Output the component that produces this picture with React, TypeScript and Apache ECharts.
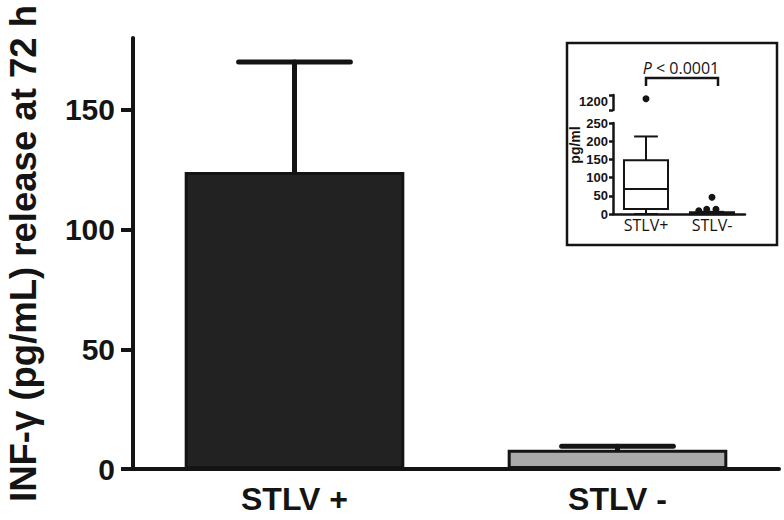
import { useEffect, useRef } from "react";
import * as echarts from "echarts";

// Main chart data
const categories = ["STLV +", "STLV -"];
const means = [124, 8];
const errorTops = [170, 9.5];
const barColors = ["#222222", "#aaaaaa"];
const yTicks = [0, 50, 100, 150];

// Inset data (x in category units: STLV+ centred at 0.5, STLV- at 1.5)
const insetCategories = ["STLV+", "STLV-"];
const insetCenters = [0.5, 1.5];
// [min, Q1, median, Q3, max]
const insetBoxes = [
  [0, 14, 69, 148, 213],
  [0, 0, 2, 5, 6],
];
const insetPointsLow = [
  [1.3, 9],
  [1.42, 13],
  [1.56, 13],
  [1.5, 46],
];
const insetPointsHigh = [[0.5, 1150]];
const insetTicks = [0, 50, 100, 150, 200, 250];
const insetUpperTicks = [1000, 1200];
const pText = "< 0.0001";

const FONT = "Liberation Sans, Arial, sans-serif";
const INSET_FONT = "Open Sans, sans-serif";
const INK = "#141414";

export default function App() {
  const ref = useRef<HTMLDivElement>(null);

  useEffect(() => {
    if (!ref.current) return;
    const chart = echarts.init(ref.current, undefined, { renderer: "svg" });

    const boxData = insetBoxes.map((b, i) => [insetCenters[i], ...b]);

    const option: any = {
      animation: false,
      backgroundColor: "#ffffff",
      grid: [
        { left: 133, right: 5, top: 38, bottom: 51, outerBoundsMode: "none", containLabel: false },
        { left: 613, width: 132, top: 123, height: 91, outerBoundsMode: "none", containLabel: false },
        { left: 613, width: 132, top: 95, height: 15, outerBoundsMode: "none", containLabel: false },
      ],
      xAxis: [
        {
          gridIndex: 0,
          type: "category",
          data: categories,
          boundaryGap: true,
          axisLine: { lineStyle: { color: INK, width: 4 } },
          axisTick: { alignWithLabel: true, length: 12, lineStyle: { color: INK, width: 4 } },
          axisLabel: { fontSize: 32, fontWeight: "bold", fontFamily: FONT, color: INK, margin: 14 },
        },
        {
          gridIndex: 1,
          type: "value",
          min: 0,
          max: 2,
          axisLine: { show: true, onZero: false, lineStyle: { color: INK, width: 2.5 } },
          axisTick: { show: false },
          splitLine: { show: false },
          axisLabel: {
            customValues: insetCenters,
            formatter: (v: number) => insetCategories[insetCenters.indexOf(v)] ?? "",
            fontSize: 16,
            fontFamily: INSET_FONT,
            color: INK,
            margin: 3,
          },
        },
        {
          gridIndex: 2,
          type: "value",
          min: 0,
          max: 2,
          show: false,
        },
      ],
      yAxis: [
        {
          gridIndex: 0,
          type: "value",
          min: 0,
          max: 180,
          name: "INF-γ (pg/mL) release at 72 h",
          nameLocation: "middle",
          nameRotate: 90,
          nameGap: 91,
          nameTextStyle: { fontSize: 36.5, fontWeight: "bold", fontFamily: FONT, color: INK },
          axisLine: { show: true, lineStyle: { color: INK, width: 4 } },
          axisTick: { show: true, length: 12, customValues: yTicks, lineStyle: { color: INK, width: 4 } },
          axisLabel: {
            customValues: yTicks,
            fontSize: 30,
            fontWeight: "bold",
            fontFamily: FONT,
            color: INK,
            margin: 18,
          },
          splitLine: { show: false },
        },
        {
          gridIndex: 1,
          type: "value",
          min: 0,
          max: 250,
          interval: 50,
          axisLine: { show: true, lineStyle: { color: INK, width: 2.5 } },
          axisTick: { show: true, length: 4, customValues: insetTicks, lineStyle: { color: INK, width: 2.5 } },
          axisLabel: { customValues: insetTicks, fontSize: 13, fontWeight: "bold", fontFamily: FONT, color: INK, margin: 5 },
          splitLine: { show: false },
        },
        {
          gridIndex: 2,
          type: "value",
          min: 1000,
          max: 1200,
          axisLine: { show: true, lineStyle: { color: INK, width: 2.5 } },
          axisTick: { show: true, length: 4, customValues: insetUpperTicks, lineStyle: { color: INK, width: 2.5 } },
          axisLabel: {
            customValues: [1200],
            formatter: (v: number) => String(v),
            fontSize: 13,
            fontWeight: "bold",
            fontFamily: FONT,
            color: INK,
            margin: 5,
            verticalAlign: "top",
          },
          splitLine: { show: false },
        },
      ],
      series: [
        {
          type: "bar",
          xAxisIndex: 0,
          yAxisIndex: 0,
          barWidth: "68%",
          data: means.map((v, i) => ({
            value: v,
            itemStyle: { color: barColors[i], borderColor: INK, borderWidth: 3 },
          })),
          z: 2,
        },
        {
          type: "custom",
          xAxisIndex: 0,
          yAxisIndex: 0,
          data: means.map((v, i) => [i, v, errorTops[i]]),
          z: 5,
          renderItem: (params: any, api: any) => {
            const base = api.coord([api.value(0), api.value(1)]);
            const top = api.coord([api.value(0), api.value(2)]);
            const half = api.size([1, 0])[0] * 0.173;
            const style = { stroke: INK, lineWidth: 5, lineCap: "round" };
            return {
              type: "group",
              children: [
                { type: "line", shape: { x1: base[0], y1: base[1], x2: top[0], y2: top[1] }, style },
                { type: "line", shape: { x1: top[0] - half, y1: top[1], x2: top[0] + half, y2: top[1] }, style },
              ],
            };
          },
        },
        {
          type: "custom",
          xAxisIndex: 1,
          yAxisIndex: 1,
          data: boxData,
          z: 3,
          renderItem: (params: any, api: any) => {
            const x = api.value(0);
            const pMin = api.coord([x, api.value(1)]);
            const pQ1 = api.coord([x, api.value(2)]);
            const pMed = api.coord([x, api.value(3)]);
            const pQ3 = api.coord([x, api.value(4)]);
            const pMax = api.coord([x, api.value(5)]);
            const bw = api.size([0.667, 0])[0];
            const cw = api.size([0.36, 0])[0];
            const cx = pMin[0];
            const st = { stroke: INK, lineWidth: 2, fill: "none" };
            return {
              type: "group",
              children: [
                {
                  type: "rect",
                  shape: { x: cx - bw / 2, y: pQ3[1], width: bw, height: Math.max(pQ1[1] - pQ3[1], 2) },
                  style: { stroke: INK, lineWidth: 2, fill: "#ffffff" },
                },
                { type: "line", shape: { x1: cx - bw / 2, y1: pMed[1], x2: cx + bw / 2, y2: pMed[1] }, style: st },
                { type: "line", shape: { x1: cx, y1: pQ3[1], x2: cx, y2: pMax[1] }, style: st },
                { type: "line", shape: { x1: cx, y1: pQ1[1], x2: cx, y2: pMin[1] }, style: st },
                { type: "line", shape: { x1: cx - cw / 2, y1: pMax[1], x2: cx + cw / 2, y2: pMax[1] }, style: st },
                { type: "line", shape: { x1: cx - cw / 2, y1: pMin[1], x2: cx + cw / 2, y2: pMin[1] }, style: st },
              ],
            };
          },
        },
        {
          type: "scatter",
          xAxisIndex: 1,
          yAxisIndex: 1,
          symbolSize: 7,
          itemStyle: { color: INK, opacity: 1 },
          data: insetPointsLow,
          z: 4,
        },
        {
          type: "scatter",
          xAxisIndex: 2,
          yAxisIndex: 2,
          symbolSize: 7,
          itemStyle: { color: INK, opacity: 1 },
          data: insetPointsHigh,
          z: 4,
        },
      ],
      graphic: [
        {
          type: "rect",
          z: -1,
          shape: { x: 567, y: 43, width: 210, height: 202 },
          style: { fill: "#ffffff", stroke: INK, lineWidth: 2.5 },
        },
        {
          type: "text",
          x: 575,
          y: 145,
          rotation: Math.PI / 2,
          style: {
            text: "pg/ml",
            font: `bold 14px ${FONT}`,
            fill: INK,
            align: "center",
            verticalAlign: "middle",
          },
        },
        {
          type: "text",
          x: 681,
          y: 68,
          style: {
            text: "{i|P} " + pText,
            font: `16px ${INSET_FONT}`,
            fill: INK,
            align: "center",
            verticalAlign: "middle",
            rich: { i: { fontStyle: "italic", fontSize: 16, fontFamily: INSET_FONT, fill: INK } },
          },
        },
        {
          type: "polyline",
          shape: { points: [[646, 86], [646, 78], [718, 78], [718, 86]] },
          style: { stroke: INK, lineWidth: 2.5, fill: "none" },
        },
      ],
    };

    chart.setOption(option);
    return () => chart.dispose();
  }, []);

  return (
    <div
      ref={ref}
      style={{ position: "fixed", left: 0, top: 0, width: 784, height: 520, background: "#fff" }}
    />
  );
}
